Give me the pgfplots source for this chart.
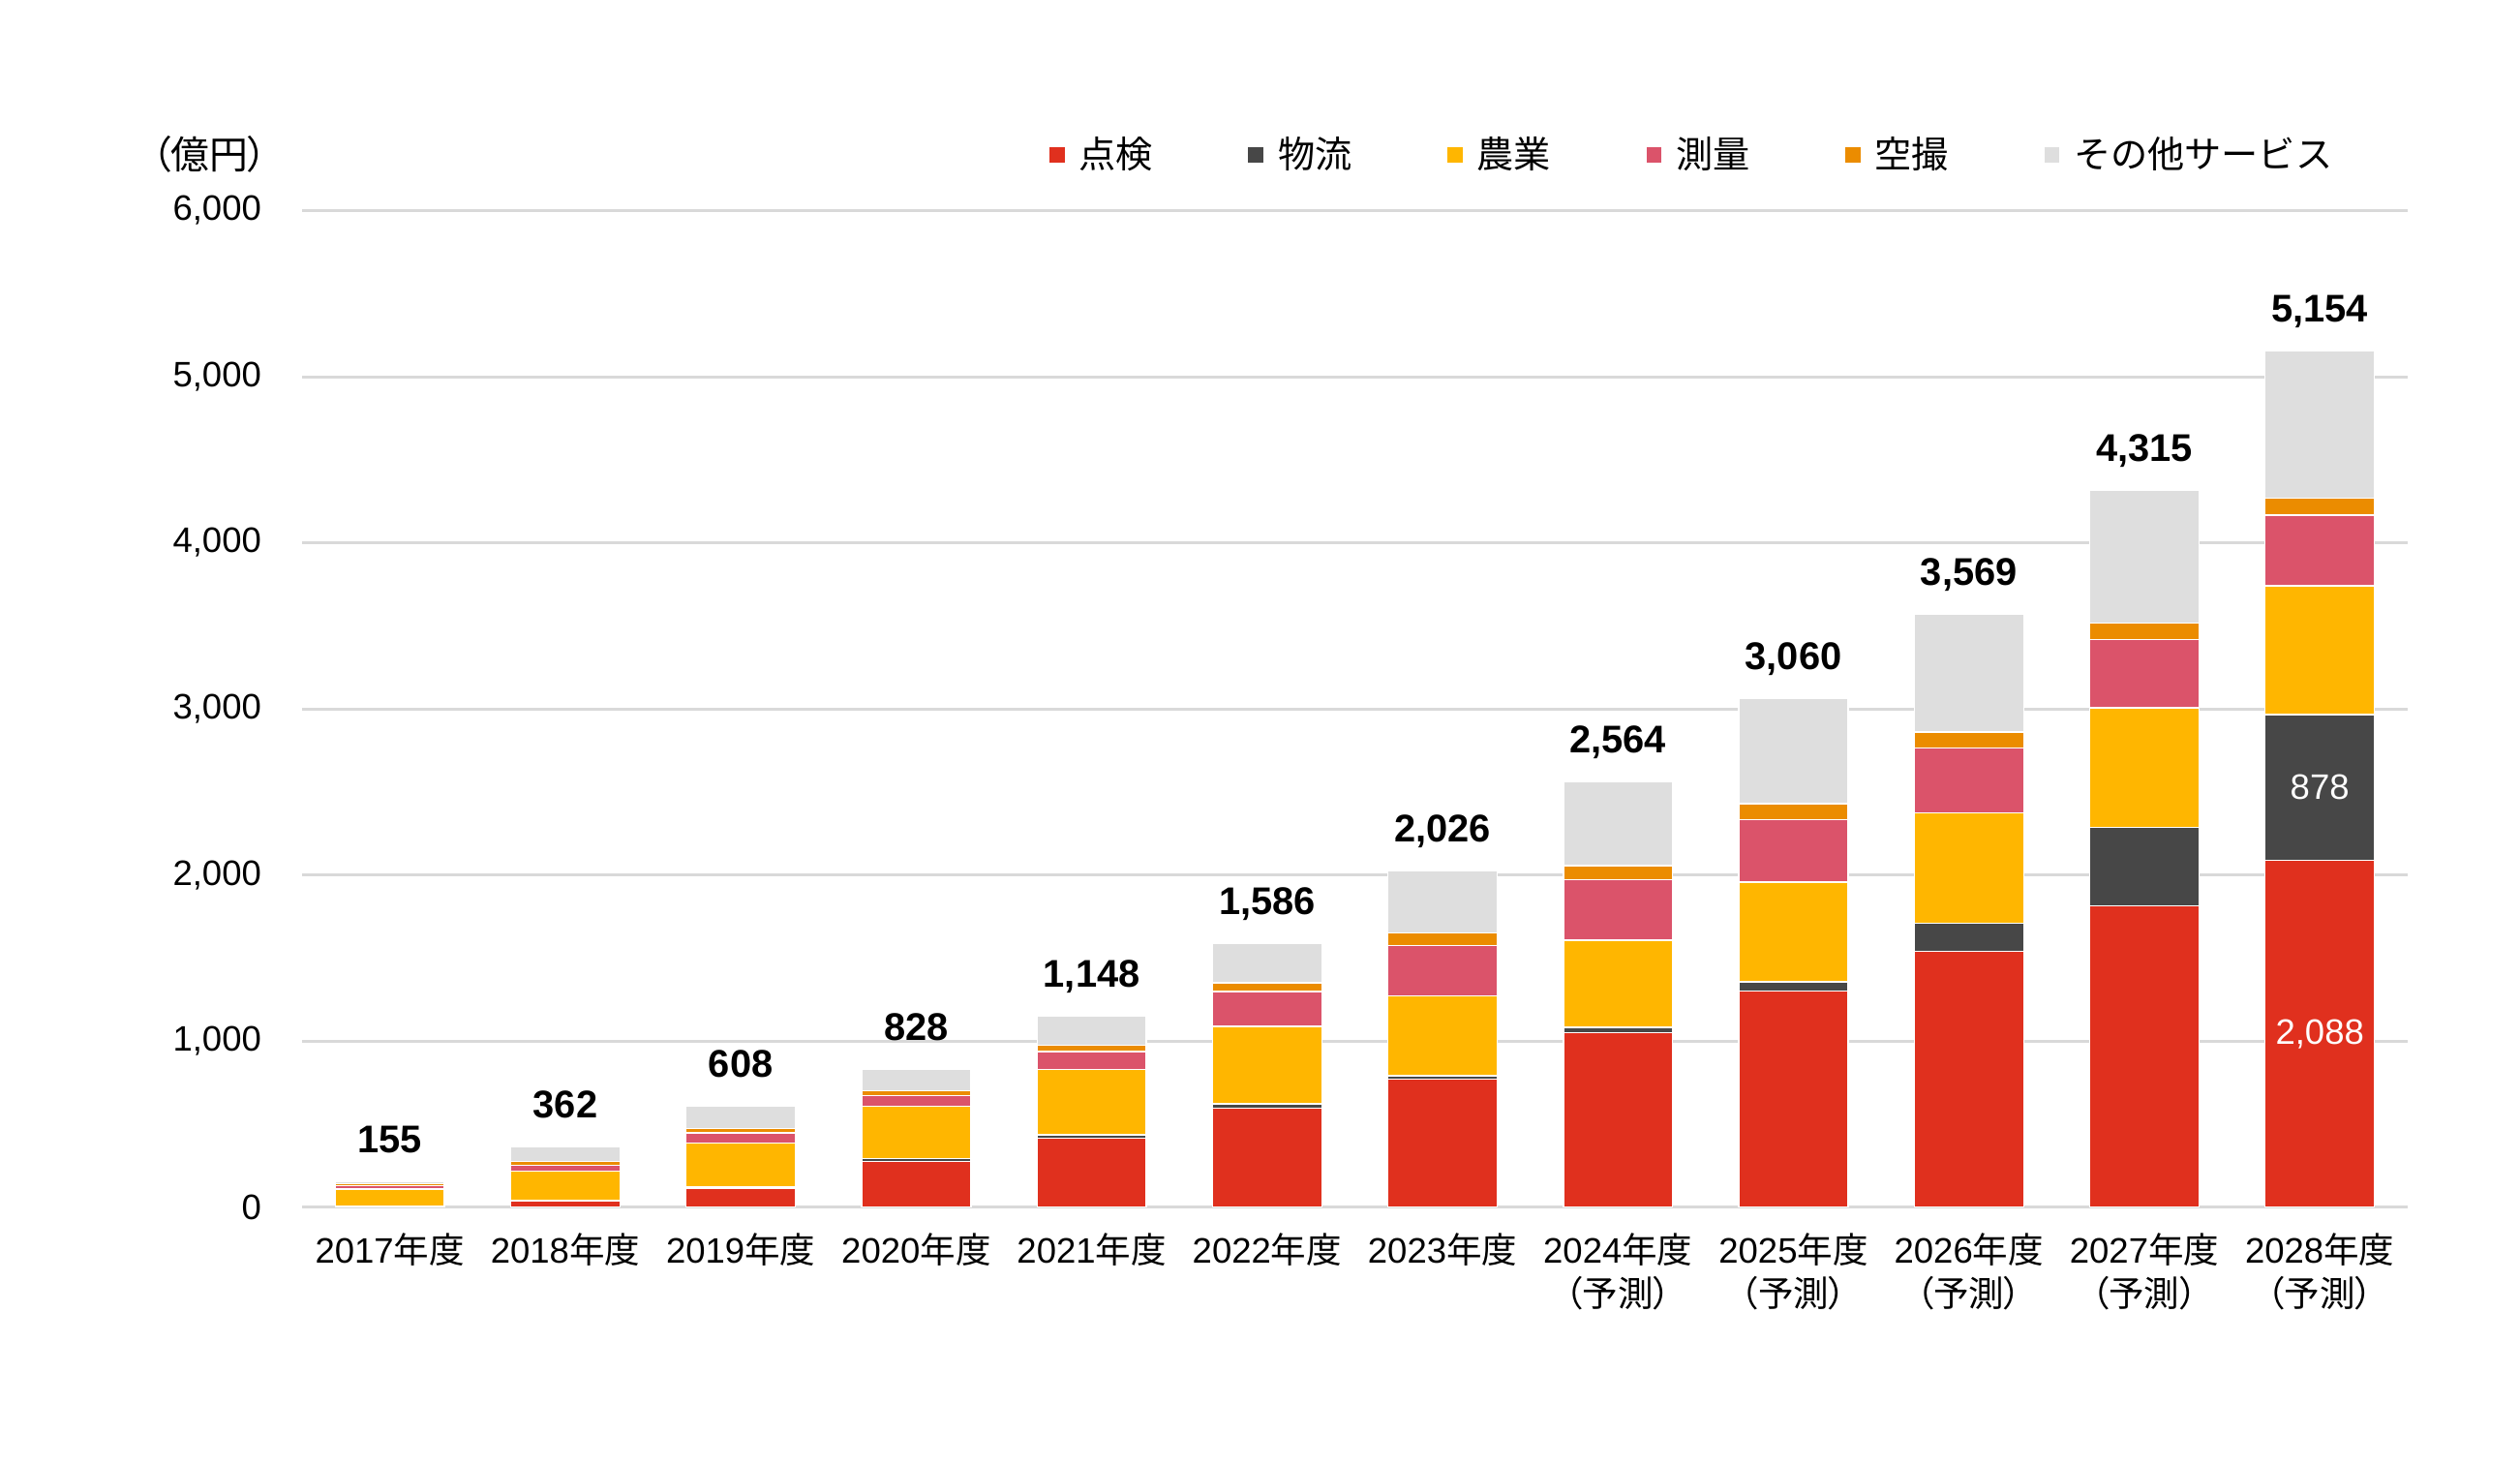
\documentclass[border=0pt]{standalone}
\usepackage{fontspec}
\setmainfont{Liberation Sans}
\newfontfamily\jp{Noto Sans CJK JP}
\newfontfamily\jpp[RawFeature=+palt]{Noto Sans CJK JP}
\usepackage{pgfplots}
\usepackage{pgfplotstable}
\pgfplotsset{compat=1.18}
\definecolor{cRed}{HTML}{E0301E}
\definecolor{cDark}{HTML}{474747}
\definecolor{cYel}{HTML}{FFB600}
\definecolor{cPink}{HTML}{DB536A}
\definecolor{cOrg}{HTML}{EB8C00}
\definecolor{cGrey}{HTML}{DEDEDE}
\definecolor{gridgray}{HTML}{D9D9D9}
\pgfplotstableread{
x red logi agri surv aer oth tot lab
0 3 1 105 20 14 12 155 155
1 37 3 177 35 24 86 362 362
2 115 8 263 61 27 134 608 608
3 274 17 315 66 27 129 828 828
4 416 19 395 107 39 172 1148 1,148
5 595 27 466 210 53 235 1586 1,586
6 770 21 482 303 74 376 2026 2,026
7 1052 30 526 365 84 507 2564 2,564
8 1302 55 601 374 97 631 3060 3,060
9 1541 167 664 391 97 709 3569 3,569
10 1816 469 722 412 97 799 4315 4,315
11 2088 878 774 426 101 887 5154 5,154
}\data
\pgfplotsset{
  geom/.style={at={(94pt,80pt)}, anchor=south west,
    scale only axis, width=655pt, height=310pt,
    xmin=-0.5, xmax=11.5, ymin=0, ymax=6000}
}
\begin{document}
\begin{tikzpicture}
\path[use as bounding box] (0,0) rectangle (784pt,455.5pt);
\node[anchor=west, inner sep=0pt, font=\jpp\fontsize{12}{14}\selectfont] at (47pt,407.5pt) {（億円）};
\begin{axis}[
  geom,
  ybar stacked, bar width=34pt,
  xtick={0,...,11},
  xticklabels={
    {2017{\jp 年度}},{2018{\jp 年度}},{2019{\jp 年度}},{2020{\jp 年度}},
    {2021{\jp 年度}},{2022{\jp 年度}},{2023{\jp 年度}},
    {2024{\jp 年度}\\{\jpp （予測）}},{2025{\jp 年度}\\{\jpp （予測）}},
    {2026{\jp 年度}\\{\jpp （予測）}},{2027{\jp 年度}\\{\jpp （予測）}},
    {2028{\jp 年度}\\{\jpp （予測）}}},
  ytick={0,1000,...,6000},
  ymajorgrids, major grid style={draw=gridgray, line width=0.9pt},
  axis line style={draw=none}, major tick length=0pt,
  tick label style={font=\fontsize{11}{13.5}\selectfont},
  yticklabel style={anchor=east, inner sep=0pt, xshift=-12.5pt},
  xticklabel style={anchor=north, inner sep=0pt, yshift=-8pt, align=center},
  /pgf/number format/1000 sep={,},
  /pgf/number format/assume math mode=true,
  scaled y ticks=false,
  legend columns=6,
  legend style={at={(0.354,1.056)}, anchor=west, draw=none, fill=none,
    inner sep=0pt, nodes={inner sep=0pt},
    font=\jp\fontsize{11.5}{13}\selectfont},
  legend image code/.code={\fill[#1] (0pt,-2.6pt) rectangle (5.2pt,2.6pt);},
]
\addplot[fill=cRed, draw=white, line width=0.4pt] table[x=x,y=red]{\data};
\addlegendentry{\makebox[56.3pt][l]{\hspace{4pt}点検}}
\addplot[fill=cDark, draw=white, line width=0.4pt] table[x=x,y=logi]{\data};
\addlegendentry{\makebox[56.3pt][l]{\hspace{4pt}物流}}
\addplot[fill=cYel, draw=white, line width=0.4pt] table[x=x,y=agri]{\data};
\addlegendentry{\makebox[56.3pt][l]{\hspace{4pt}農業}}
\addplot[fill=cPink, draw=white, line width=0.4pt] table[x=x,y=surv]{\data};
\addlegendentry{\makebox[56.3pt][l]{\hspace{4pt}測量}}
\addplot[fill=cOrg, draw=white, line width=0.4pt] table[x=x,y=aer]{\data};
\addlegendentry{\makebox[56.3pt][l]{\hspace{4pt}空撮}}
\addplot[fill=cGrey, draw=white, line width=0.4pt] table[x=x,y=oth]{\data};
\addlegendentry{\hspace{4pt}その他サービス}
\end{axis}
\begin{axis}[geom, hide axis, clip=false]
\addplot[draw=none, mark=none,
  nodes near coords={\pgfplotspointmeta}, point meta=explicit symbolic,
  every node near coord/.style={font=\bfseries\fontsize{12}{14}\selectfont, anchor=base, yshift=9pt, text=black, inner sep=0pt}]
  table[x=x,y=tot,meta=lab]{\data};
\addplot[draw=none, mark=none,
  nodes near coords={\pgfplotspointmeta}, point meta=explicit symbolic,
  every node near coord/.style={font=\fontsize{11}{13}\selectfont, anchor=center, text=white, inner sep=0pt}]
  coordinates {(11,1044) [2,088] (11,2527) [878]};
\end{axis}
\end{tikzpicture}
\end{document}
